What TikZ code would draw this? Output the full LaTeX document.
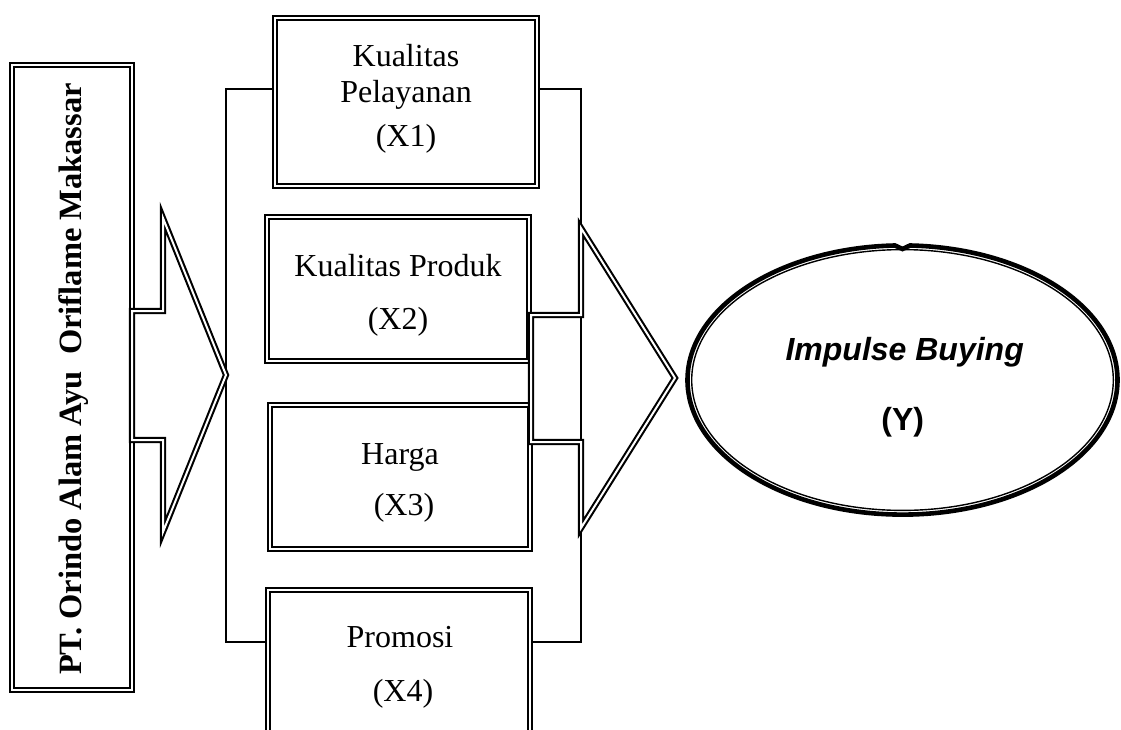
\documentclass[tikz,border=0pt]{standalone}
\usepackage{fontspec}
\setmainfont{Liberation Serif}
\newfontfamily\arialf{Liberation Sans}
\tikzset{
  dbl/.style={draw, double, line width=2.1pt, double distance=2.0pt},
  boxn/.style={dbl, inner sep=0pt},
  txt/.style={font=\fontsize{32}{38}\selectfont, anchor=base, inner sep=0pt},
  ytxt/.style={font=\arialf\bfseries\fontsize{32}{38}\selectfont, anchor=base, inner sep=0pt},
  conn/.style={line width=1.1pt},
  bigarrow/.style={dbl, line join=miter},
}
\begin{document}
\begin{tikzpicture}[x=1pt,y=-1pt]
\useasboundingbox (0,0) rectangle (1121,729);
\clip (0,0) rectangle (1121,729);

% left company box
\node[boxn, minimum width=120pt, minimum height=625pt] (L) at (72,377.5) {};
\node[rotate=90, anchor=base, inner sep=0pt, font=\fontsize{32.5}{38}\selectfont\bfseries] (Lt) at (81,379) {PT. Orindo Alam Ayu \ Oriflame Makassar};

% variable boxes
\node[boxn, minimum width=262pt, minimum height=168pt] (b1) at (406,102) {};
\node[boxn, minimum width=262pt, minimum height=144pt] (b2) at (398,289) {};
\node[boxn, minimum width=260pt, minimum height=144pt] (b3) at (400,477) {};
\node[boxn, minimum width=262pt, minimum height=170pt] (b4) at (399,675) {};

\node[txt] (t1a) at (406,66) {Kualitas};
\node[txt] (t1b) at (406,102) {Pelayanan};
\node[txt] (t1c) at (406,146) {(X1)};
\node[txt] (t2a) at (398,276) {Kualitas Produk};
\node[txt] (t2b) at (398,329) {(X2)};
\node[txt] (t3a) at (400,464) {Harga};
\node[txt] (t3b) at (404,515) {(X3)};
\node[txt] (t4a) at (400,647) {Promosi};
\node[txt] (t4b) at (403,701) {(X4)};

% brackets
\coordinate (lt) at (226,89);
\coordinate (lb) at (226,642);
\coordinate (rt) at (581,89);
\coordinate (rb) at (581,642);
\draw[conn] (b1.west |- lt) -- (lt) -- (lb) -- (b4.west |- lb);
\draw[conn] (b1.east |- rt) -- (rt) -- (rb) -- (b4.east |- rb);

% big block arrows
\draw[bigarrow] (132,311) -- (163,311) -- (163,218) -- (226,375) -- (163,532) -- (163,440) -- (132,440) -- cycle;
\draw[bigarrow] (531,315) -- (581,315) -- (581,228) -- (675,378) -- (581,528) -- (581,442) -- (531,442) -- cycle;

% outcome ellipse
\coordinate (Yc) at (902.5,380);
\draw[line width=4.6pt, line join=miter] ([shift={(Yc)}]-88:215 and 134.6) arc[start angle=-88, end angle=268, x radius=215, y radius=134.6] -- ([shift={(Yc)}]0,-131) -- cycle;
\draw[line width=1.4pt] (Yc) ellipse [x radius=210.8, y radius=130.4];
\node[ytxt, font=\arialf\bfseries\itshape\fontsize{32}{38}\selectfont] (Y1) at (904.7,360) {Impulse Buying};
\node[ytxt] (Y2) at (902.7,430) {(Y)};
\end{tikzpicture}
\end{document}
